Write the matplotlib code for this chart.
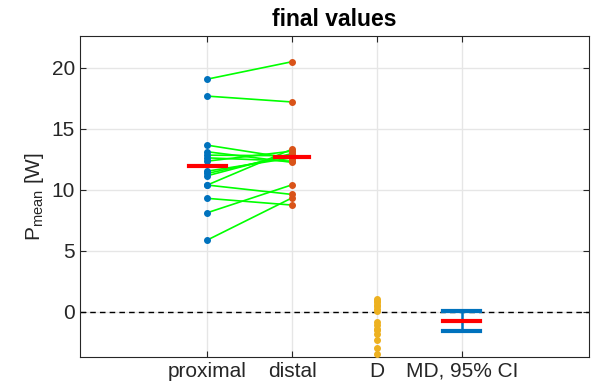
import numpy as np
import matplotlib.pyplot as plt

plt.rcParams['font.family'] = ['Liberation Sans', 'DejaVu Sans']

# paired values (W)
proximal = [19.07, 17.68, 13.66, 13.12, 12.84, 12.62, 12.35, 11.53, 11.34,
            11.15, 10.39, 10.39, 9.30, 8.12, 5.88]
distal = [20.50, 17.20, 12.57, 12.25, 12.79, 12.35, 13.17, 12.62, 12.84,
          12.98, 13.33, 9.62, 8.75, 10.41, 9.34]
tick_labels = ['proximal', 'distal', 'D', 'MD, 95% CI']
t_crit = 2.145  # t(0.975, 14)

prox = np.array(proximal)
dist = np.array(distal)
d = prox - dist
md = d.mean()
half = t_crit * d.std(ddof=1) / np.sqrt(len(d))

blue = '#0072BD'
orange = '#D95319'
yellow = '#EDB120'
axcol = '#262626'

fig = plt.figure(figsize=(5.92, 3.88), dpi=100)
ax = fig.add_axes([0.135, 0.080, 0.860, 0.827])

# paired lines
for p, q in zip(prox, dist):
    ax.plot([1, 2], [p, q], color='#00FF00', lw=1.2, zorder=2)
ax.plot(np.ones_like(prox), prox, 'o', color=blue, ms=4, zorder=3)
ax.plot(np.full_like(dist, 2), dist, 'o', color=orange, ms=4, zorder=3)

# means
ax.plot([0.78, 1.22], [prox.mean()] * 2, color='red', lw=3, zorder=4)
ax.plot([1.8, 2.2], [dist.mean()] * 2, color='red', lw=3, zorder=4)

# differences
ax.plot(np.full_like(d, 3), d, 'o', color=yellow, ms=4, zorder=3)

# mean difference with CI
ax.plot([4, 4], [md - half, md + half], color=blue, lw=1.8, zorder=3)
for y in (md - half, md + half):
    ax.plot([3.78, 4.22], [y, y], color=blue, lw=3, zorder=3)
ax.plot([3.78, 4.22], [md, md], color='red', lw=3, zorder=4)

ax.axhline(0, color='black', lw=1, ls=(0, (4, 3)), zorder=1)

ax.set_xlim(-0.5, 5.5)
ax.set_ylim(-3.7, 22.6)
ax.set_xticks([1, 2, 3, 4])
ax.set_xticklabels(tick_labels)
ax.set_yticks([0, 5, 10, 15, 20])
ax.grid(True, color='#E6E6E6', lw=1)
ax.set_axisbelow(True)
ax.tick_params(direction='in', length=4, top=True, right=True,
               labelsize=15, colors=axcol, width=0.8)
for s in ax.spines.values():
    s.set_color(axcol)
    s.set_linewidth(0.8)
ax.set_ylabel('P$_{\\mathregular{mean}}$ [W]', fontsize=15, color=axcol)
ax.set_title('final values', fontsize=16.5, fontweight='bold', pad=7)

fig.savefig('out.png', dpi=100)
